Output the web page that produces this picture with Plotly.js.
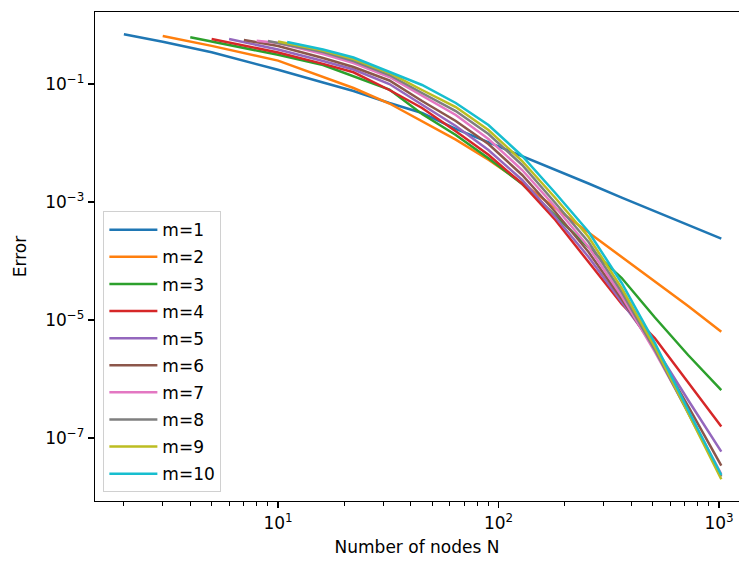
<!DOCTYPE html>
<html>
<head>
<meta charset="utf-8">
<script src="https://cdn.plot.ly/plotly-3.0.1.min.js"></script>
<style>html,body{margin:0;padding:0;background:#fff;}#chart{width:739px;height:561px;}</style>
</head>
<body>
<div id="chart"></div>
<script>
// Series labels and colours
const seriesNames = ["m=1","m=2","m=3","m=4","m=5","m=6","m=7","m=8","m=9","m=10"];
const seriesColors = ["#1f77b4","#ff7f0e","#2ca02c","#d62728","#9467bd","#8c564b","#e377c2","#7f7f7f","#bcbd22","#17becf"];

// Number of nodes N for each series
const N_m1 = [2,3,5,10,16,22,32,45,64,90,128,181,256,362,512,724,1024];
const N_m2 = [3,5,10,16,22,32,45,64,90,128,181,256,362,512,724,1024];
const N_m3 = [4,5,10,16,22,32,45,64,90,128,181,256,362,512,724,1024];
const N_m4 = [5,10,16,22,32,45,64,90,128,181,256,362,512,724,1024];
const N_m5 = [6,10,16,22,32,45,64,90,128,181,256,362,512,724,1024];
const N_m6 = [7,10,16,22,32,45,64,90,128,181,256,362,512,724,1024];
const N_m7 = [8,10,16,22,32,45,64,90,128,181,256,362,512,724,1024];
const N_m8 = [9,16,22,32,45,64,90,128,181,256,362,512,724,1024];
const N_m9 = [10,16,22,32,45,64,90,128,181,256,362,512,724,1024];
const N_m10 = [11,16,22,32,45,64,90,128,181,256,362,512,724,1024];

// Error values
const E_m1 = [0.695,0.521,0.344,0.174,0.106,0.076,0.0476,0.0322,0.0173,0.0103,0.0061,0.00359,0.00206,0.00119,7.0e-4,4.1e-4,2.4e-4];
const E_m2 = [0.652,0.443,0.249,0.133,0.0855,0.0467,0.0237,0.0114,0.0052,0.0021,7.9e-4,3.04e-4,1.18e-4,4.58e-5,1.73e-5,6.3e-6];
const E_m3 = [0.619,0.527,0.313,0.21,0.134,0.0807,0.031,0.0137,0.00552,0.00202,5.86e-4,1.7e-4,5.15e-5,1.1e-5,2.55e-6,6.5e-7];
const E_m4 = [0.579,0.342,0.219,0.158,0.0791,0.0392,0.0158,0.00631,0.00204,4.95e-4,9.6e-5,1.87e-5,4.9e-6,8.9e-7,1.56e-7];
const E_m5 = [0.579,0.384,0.245,0.176,0.1,0.0441,0.0194,0.0076,0.00236,5.57e-4,1.17e-4,2.02e-5,3.48e-6,4.41e-7,5.86e-8];
const E_m6 = [0.557,0.441,0.276,0.194,0.1146,0.0515,0.0236,0.00962,0.00287,6.78e-4,1.42e-4,2.27e-5,3.22e-6,3.48e-7,3.4e-8];
const E_m7 = [0.542,0.495,0.323,0.227,0.1315,0.0626,0.0298,0.0117,0.00348,8.22e-4,1.73e-4,2.55e-5,2.87e-6,2.76e-7,2.45e-8];
const E_m8 = [0.536,0.348,0.245,0.142,0.0703,0.0348,0.0142,0.00424,9.62e-4,2.1e-4,2.98e-5,3.1e-6,2.65e-7,2.21e-8];
const E_m9 = [0.525,0.37,0.265,0.1536,0.0791,0.0407,0.0166,0.00495,0.00117,2.55e-4,3.48e-5,3.48e-6,2.65e-7,2.0e-8];
const E_m10 = [0.515,0.384,0.281,0.16,0.0962,0.0476,0.0202,0.00603,0.00142,3.13e-4,4.24e-5,4.07e-6,2.98e-7,2.36e-8];

// Axis tick labels
const xTickVals = [10,100,1000];
const xTickText = ["10<sup>1</sup>","10<sup>2</sup>","10<sup>3</sup>"];
const yTickVals = [1e-7,1e-5,1e-3,1e-1];
const yTickText = ["10<sup>−7</sup>","10<sup>−5</sup>","10<sup>−3</sup>","10<sup>−1</sup>"];

const Ns = [N_m1,N_m2,N_m3,N_m4,N_m5,N_m6,N_m7,N_m8,N_m9,N_m10];
const Es = [E_m1,E_m2,E_m3,E_m4,E_m5,E_m6,E_m7,E_m8,E_m9,E_m10];

const traces = seriesNames.map((name,i)=>({
  x: Ns[i], y: Es[i], type:'scatter', mode:'lines', name: name,
  legendgroup: 'g'+i,
  line:{color: seriesColors[i], width:2.5}
}));

const minorVals = [];
for (let d of [1,10,100,1000]) for (let k=2;k<=9;k++) minorVals.push(k*d);

const FAM = 'DejaVu Sans, sans-serif';
const layout = {
  width:739, height:561,
  margin:{l:95, r:0, t:12, b:60, pad:0},
  paper_bgcolor:'#fff', plot_bgcolor:'#fff',
  font:{family:FAM, size:17, color:'#000'},
  showlegend:true,
  legend:{
    x:0.013, y:0.018, xanchor:'left', yanchor:'bottom',
    bgcolor:'rgba(255,255,255,0.8)', bordercolor:'#d0d0d0', borderwidth:1,
    font:{family:FAM, size:17, color:'#000'},
    tracegroupgap:2, itemwidth:48
  },
  xaxis:{
    type:'log', range:[0.170, 3.0906], autorange:false,
    showline:true, linecolor:'#000', linewidth:1.3, mirror:true,
    showgrid:false, zeroline:false,
    ticks:'outside', ticklen:6, tickwidth:1.2, tickcolor:'#000',
    tickmode:'array', tickvals:xTickVals, ticktext:xTickText,
    minor:{ticks:'outside', ticklen:3.5, tickwidth:1, tickcolor:'#000', tickmode:'array', tickvals:minorVals, showgrid:false},
    tickfont:{family:FAM, size:17},
    title:{text:'Number of nodes N', font:{family:FAM, size:17}, standoff:9}
  },
  yaxis:{
    type:'log', range:[-8.068, 0.2203], autorange:false,
    showline:true, linecolor:'#000', linewidth:1.3, mirror:false,
    showgrid:false, zeroline:false,
    ticks:'outside', ticklen:6, tickwidth:1.2, tickcolor:'#000',
    tickmode:'array', tickvals:yTickVals, ticktext:yTickText,
    tickfont:{family:FAM, size:17},
    title:{text:'Error', font:{family:FAM, size:17}, standoff:14}
  }
};

Plotly.newPlot('chart', traces, layout, {staticPlot:true, displayModeBar:false});
</script>
</body>
</html>
